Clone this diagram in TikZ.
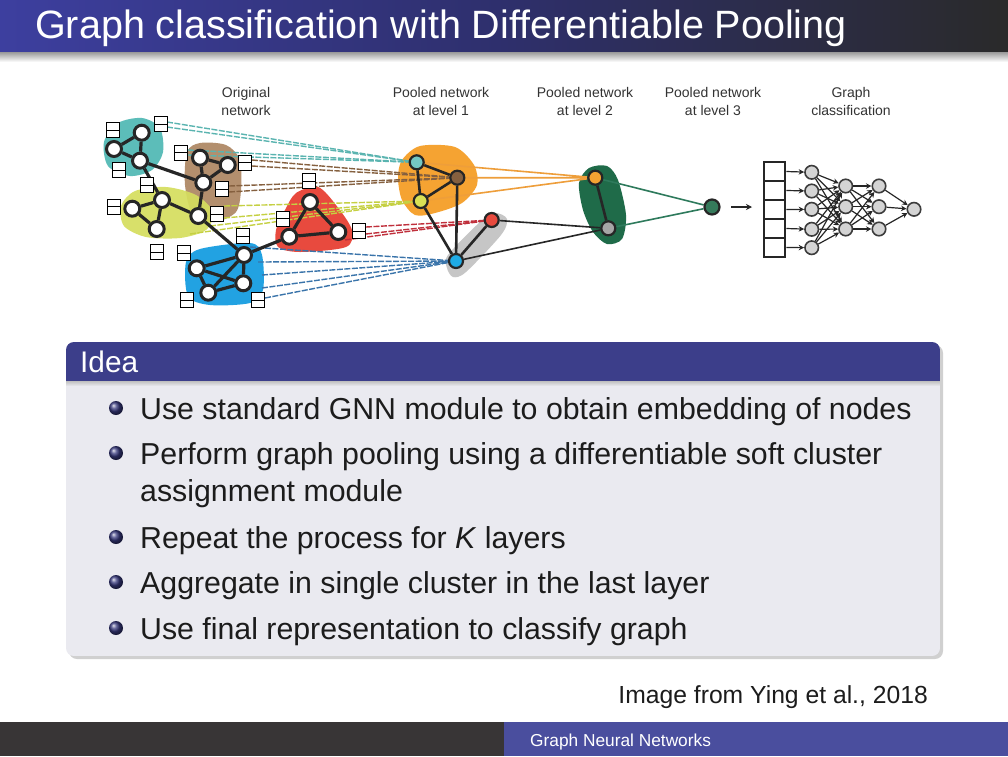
\documentclass[tikz,border=0pt]{standalone}
\usepackage{fontspec}
\setmainfont{Liberation Sans}
\usetikzlibrary{arrows.meta}
\definecolor{edgec}{HTML}{262626}
\definecolor{tealC}{HTML}{5CBDB9}
\definecolor{brownC}{HTML}{B38F6E}
\definecolor{yelC}{HTML}{D5DE5E}
\definecolor{redC}{HTML}{E84A3E}
\definecolor{blueC}{HTML}{22A2E2}
\definecolor{orangeC}{HTML}{F5A332}
\definecolor{grayC}{HTML}{C6C6C6}
\definecolor{greenC}{HTML}{1F6B49}
\definecolor{tealL}{HTML}{5AB4B0}
\definecolor{brownL}{HTML}{85603F}
\definecolor{yelL}{HTML}{C5D042}
\definecolor{redL}{HTML}{C0303C}
\definecolor{blueL}{HTML}{3A74AA}
\definecolor{orangeL}{HTML}{EE9E3A}
\definecolor{greenL}{HTML}{2E7A5C}
\definecolor{tb1}{HTML}{3D3F9F}
\definecolor{tb2}{HTML}{2E2F6C}
\definecolor{tb3}{HTML}{2A2A2A}
\definecolor{blockhead}{HTML}{3C3E8A}
\definecolor{blockbody}{HTML}{EAEAF0}
\definecolor{footdark}{HTML}{383536}
\definecolor{footblue}{HTML}{4A4E9E}
\definecolor{txt}{HTML}{1C1C1C}
\definecolor{nnfill}{HTML}{D4D4D4}
\pgfdeclarelayer{bg}
\pgfdeclarelayer{blobs}
\pgfdeclarelayer{lines}
\pgfdeclarelayer{edges}
\pgfsetlayers{bg,blobs,lines,edges,main}
\begin{document}
\begin{tikzpicture}[x=1pt,y=-1pt,
  lbl/.style={align=center,font=\fontsize{14}{18}\selectfont,text=black!80,inner sep=0pt},
  onode/.style={circle,draw=edgec,line width=3pt,fill=white,minimum size=15pt,inner sep=0pt},
  pnode/.style={circle,draw=edgec,line width=2.2pt,minimum size=14pt,inner sep=0pt},
  fbox/.style={rectangle,draw=black,line width=0.9pt,fill=white,minimum width=13pt,minimum height=15pt,inner sep=0pt,
    path picture={\draw[line width=0.9pt] (path picture bounding box.west)--(path picture bounding box.east);}},
  gedge/.style={draw=edgec,line width=3.2pt},
  dline/.style={line width=1.4pt,dash pattern=on 6pt off 1.5pt},
  pline/.style={line width=1.6pt},
  cell/.style={rectangle,draw=edgec,line width=2.8pt,minimum width=21pt,minimum height=19pt,inner sep=0pt},
  nn/.style={circle,draw=edgec!90,line width=1.6pt,fill=nnfill,minimum size=13.5pt,inner sep=0pt},
  nnarrow/.style={draw=edgec,line width=1.2pt,-{Stealth[length=5.5pt,width=5.5pt]}},
  body/.style={anchor=base west,text=txt,font=\fontsize{30.3}{36}\selectfont,inner sep=0pt}
]
\useasboundingbox (0,0) rectangle (1008,756);
\begin{pgfonlayer}{bg}
\fill[white] (0,0) rectangle (1008,756);
\end{pgfonlayer}
% title bar
\shade[left color=tb1,right color=tb2] (0,0) rectangle (505,52);
\shade[left color=tb2,right color=tb3] (504,0) rectangle (1008,52);
\shade[top color=black!40,bottom color=white] (0,52) rectangle (1008,62);
\node[anchor=base west,text=white,font=\fontsize{39.5}{47}\selectfont,inner sep=0pt] (title) at (35,38) {Graph classification with Differentiable Pooling};

% column labels
\node[lbl] (lab0) at (246,101) {Original\\network};
\node[lbl] (lab1) at (441,101) {Pooled network\\at level 1};
\node[lbl] (lab2) at (585,101) {Pooled network\\at level 2};
\node[lbl] (lab3) at (713,101) {Pooled network\\at level 3};
\node[lbl] (lab4) at (851,101) {Graph\\classification};

% blobs
\begin{pgfonlayer}{blobs}
\fill[brownC] plot[smooth cycle] coordinates {(187,152) (200,143) (226,145) (240,160) (241,190) (236,212) (215,222) (193,215) (185,185)};
\fill[tealC] plot[smooth cycle] coordinates {(104,142) (118,123) (142,118) (160,128) (163,152) (152,170) (130,176) (108,166)};
\fill[yelC,opacity=0.92] plot[smooth cycle] coordinates {(121,206) (135,191) (166,187) (196,195) (213,212) (206,230) (180,238) (146,237) (124,226)};
\fill[redC] plot[smooth cycle] coordinates {(296,193) (318,187) (336,205) (352,230) (346,247) (300,252) (278,247) (276,230) (285,210)};
\fill[blueC] plot[smooth cycle] coordinates {(186,262) (200,249) (250,243) (262,255) (263,290) (250,303) (210,305) (188,296)};
\fill[orangeC] plot[smooth cycle] coordinates {(402,160) (420,146) (455,147) (474,165) (477,185) (462,203) (435,213) (415,215) (402,200) (398,178)};
\fill[grayC] plot[smooth cycle] coordinates {(447,268) (448,255) (480,222) (495,213) (507,219) (501,235) (466,272) (453,277)};
\fill[greenC] plot[smooth cycle] coordinates {(579,183) (589,168) (607,166) (618,180) (626,215) (622,239) (607,244) (593,232) (583,210)};
\end{pgfonlayer}

% original network nodes
\node[onode] (t1) at (141.7,132.7) {};
\node[onode] (t2) at (114,149) {};
\node[onode] (t3) at (140,160.7) {};
\node[onode] (b1) at (200,157.7) {};
\node[onode] (b2) at (227.7,165) {};
\node[onode] (b3) at (203.3,182.7) {};
\node[onode] (y1) at (162,200) {};
\node[onode] (y2) at (132.3,208.7) {};
\node[onode] (y3) at (156.7,229) {};
\node[onode] (y4) at (198.3,216) {};
\node[onode] (r1) at (310,202) {};
\node[onode] (r2) at (289.3,236.7) {};
\node[onode] (r3) at (338.3,232) {};
\node[onode] (u1) at (244,255) {};
\node[onode] (u2) at (196.7,268.3) {};
\node[onode] (u3) at (243.3,283.3) {};
\node[onode] (u4) at (208.3,292.7) {};

% feature boxes
\node[fbox] (f1) at (112.7,130) {};
\node[fbox] (f2) at (160.7,124) {};
\node[fbox] (f3) at (119.3,170) {};
\node[fbox] (f4) at (180.7,152.7) {};
\node[fbox] (f5) at (245.3,162.7) {};
\node[fbox] (f6) at (146.7,185.3) {};
\node[fbox] (f7) at (222,189.3) {};
\node[fbox] (f8) at (114,206.7) {};
\node[fbox] (f9) at (217.3,214) {};
\node[fbox] (f10) at (156.7,252) {};
\node[fbox] (f11) at (184,253.3) {};
\node[fbox] (f12) at (243.3,236) {};
\node[fbox] (f13) at (308.7,181.3) {};
\node[fbox] (f14) at (283.3,218.7) {};
\node[fbox] (f15) at (359.3,231.3) {};
\node[fbox] (f16) at (186.7,300) {};
\node[fbox] (f17) at (258.3,300) {};

% pooled nodes
\node[pnode,fill=tealC!85!white] (p1t) at (416.7,162.3) {};
\node[pnode,fill=brownL] (p1b) at (457.3,177.7) {};
\node[pnode,fill=yelC!90!yellow] (p1y) at (420.7,201) {};
\node[pnode,fill=redC] (p1r) at (491.7,220) {};
\node[pnode,fill=blueC!90!cyan] (p1u) at (456,261) {};
\node[pnode,fill=orangeC] (p2o) at (595.3,177.7) {};
\node[pnode,fill=black!35] (p2g) at (608.3,228.3) {};
\node[pnode,fill=greenC!90!white,minimum size=15pt] (p3) at (712,207) {};

% original edges
\begin{pgfonlayer}{edges}
\draw[gedge] (t1)--(t2) (t2)--(t3) (t1)--(t3) (t3)--(b3) (t3)--(y1);
\draw[gedge] (b1)--(b2) (b1)--(b3) (b2)--(b3) (b3)--(y4);
\draw[gedge] (y1)--(y2) (y2)--(y3) (y1)--(y3) (y1)--(y4) (y4)--(u1);
\draw[gedge] (u1)--(r2) (r1)--(r2) (r1)--(r3) (r2)--(r3);
\draw[gedge] (u1)--(u2) (u1)--(u3) (u2)--(u3) (u2)--(u4) (u3)--(u4) (u4)--(u1);
\draw[gedge,line width=2.6pt] (p1t)--(p1b) (p1t)--(p1y) (p1b)--(p1y) (p1y)--(p1u) (p1b)--(p1u) (p1r)--(p1u);
\draw[gedge,line width=2.6pt] (p2o)--(p2g);
\end{pgfonlayer}

% dashed assignment lines
\coordinate (ta) at (167,122);
\coordinate (tb) at (167,127);
\coordinate (tc) at (188,150);
\coordinate (td) at (188,155);
\coordinate (ba) at (252,160);
\coordinate (bb) at (252,166);
\coordinate (bc) at (229,186);
\coordinate (bd) at (229,192);
\coordinate (ya) at (224,206);
\coordinate (yb) at (224,218);
\coordinate (yc) at (210,226);
\coordinate (yd) at (190,234);
\coordinate (ra) at (366,227);
\coordinate (rb) at (366,234);
\coordinate (rc) at (345,240);
\coordinate (ua) at (250,247);
\coordinate (ub) at (258,262);
\coordinate (uc) at (262,275);
\coordinate (ud) at (262,288);
\coordinate (ue) at (265,298);
\begin{pgfonlayer}{lines}
\foreach \s in {ta,tb,tc,td} \draw[dline,tealL] (\s)--(p1t);
\foreach \s in {ba,bb,bc,bd} \draw[dline,brownL] (\s)--(p1b);
\foreach \s in {ya,yb,yc,yd} \draw[dline,yelL] (\s)--(p1y);
\foreach \s in {ra,rb,rc} \draw[dline,redL] (\s)--(p1r);
\foreach \s in {ua,ub,uc,ud,ue} \draw[dline,blueL] (\s)--(p1u);
\draw[pline,orangeL] (p1t)--(p2o) (p1b)--(p2o) (p1y)--(p2o);
\draw[pline,edgec] (p1r)--(p2g) (p1u)--(p2g);
\draw[pline,greenL] (p2o)--(p3) (p2g)--(p3);
\end{pgfonlayer}

% arrow to classifier
\coordinate (arA) at (731,207);
\coordinate (arB) at (752,207);
\draw[edgec,line width=1.5pt,-{Stealth[length=6pt,width=6pt]}] (arA)--(arB);

% classifier
\foreach \i in {1,...,5} \node[cell] (c\i) at (774.5,{152.5+19*\i}) {};
\node[nn] (a1) at (811.7,172.3) {};
\node[nn] (a2) at (811.7,191) {};
\node[nn] (a3) at (811.7,209.3) {};
\node[nn] (a4) at (811.7,229.3) {};
\node[nn] (a5) at (811.7,247.7) {};
\node[nn] (h1) at (845.7,186) {};
\node[nn] (h2) at (845.7,206.7) {};
\node[nn] (h3) at (845.7,229) {};
\node[nn] (g1) at (879,186) {};
\node[nn] (g2) at (879,206.7) {};
\node[nn] (g3) at (879,229) {};
\node[nn] (o1) at (914,209.3) {};
\foreach \i in {1,...,5} \draw[nnarrow] (c\i.east)--(a\i);
\foreach \i in {1,...,5} \foreach \j in {1,2,3} \draw[nnarrow] (a\i)--(h\j);
\foreach \i in {1,2,3} \foreach \j in {1,2,3} \draw[nnarrow] (h\i)--(g\j);
\foreach \i in {1,2,3} \draw[nnarrow] (g\i)--(o1);

% block
\fill[black!30,opacity=0.6,rounded corners=8pt] (69,345) rectangle (943,659);
\begin{scope}
\clip[rounded corners=8pt] (66,342) rectangle (940,656);
\fill[blockbody] (66,342) rectangle (940,656);
\fill[blockhead] (66,342) rectangle (940,381);
\shade[top color=black!25,bottom color=blockbody] (66,381) rectangle (940,386);
\end{scope}
\node[anchor=base west,text=white,font=\fontsize{29.8}{36}\selectfont,inner sep=0pt] (idea) at (80,372) {Idea};
\foreach \yy in {408,453,537,582,628} \shade[ball color=blockhead!90!black] (116,\yy) circle (7);
\node[body] (l1) at (140,419) {Use standard GNN module to obtain embedding of nodes};
\node[body] (l2) at (140,464) {Perform graph pooling using a differentiable soft cluster};
\node[body] (l3) at (140,501) {assignment module};
\node[body] (l4) at (140,548) {Repeat the process for \textit{K} layers};
\node[body] (l5) at (140,593) {Aggregate in single cluster in the last layer};
\node[body] (l6) at (140,639) {Use final representation to classify graph};

% caption
\node[anchor=base east,text=txt,font=\fontsize{24.7}{30}\selectfont,inner sep=0pt] (cap) at (928,703) {Image from Ying et al., 2018};

% footer
\fill[footdark] (0,722) rectangle (504,756);
\fill[footblue] (504,722) rectangle (1008,756);
\node[anchor=base west,text=white,font=\fontsize{17.3}{20}\selectfont,inner sep=0pt] (foot) at (530,746) {Graph Neural Networks};
\end{tikzpicture}
\end{document}
